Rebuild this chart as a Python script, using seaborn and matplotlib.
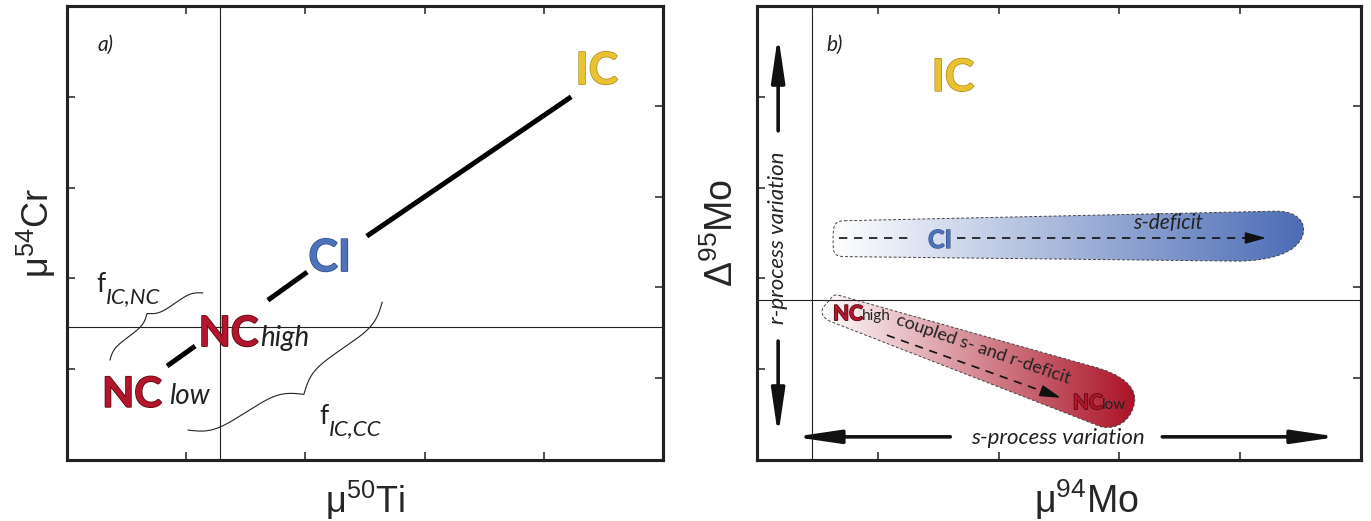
import numpy as np
import pandas as pd
import seaborn as sns
import matplotlib
matplotlib.use("Agg")
from matplotlib import pyplot as plt
from matplotlib.path import Path
from matplotlib.patches import PathPatch
from matplotlib.colors import LinearSegmentedColormap
import matplotlib.patheffects as pe

sns.set_theme(style="ticks")
plt.rcParams["font.family"] = ["Lato", "DejaVu Sans"]

# ---- schematic values (axes run 0..10 on both panels) ----
ticks_bottom = [2, 4, 6, 8]
ticks_left = [2, 4, 6, 8]
ticks_right = [1.8, 3.8, 5.8, 7.8]

# panel a: mixing line pieces (segment id, x, y)
seg_id = [0, 0, 1, 1, 2, 2]
seg_x = [1.68, 2.15, 3.37, 4.03, 5.03, 8.46]
seg_y = [2.07, 2.51, 3.52, 4.14, 4.93, 8.00]
a_vline, a_hline = 2.57, 2.93

# panel a: braces (start, end, bulge px)
brace_nc = [(0.72, 2.20), (2.28, 3.68), 16]
brace_cc = [(2.03, 0.66), (5.29, 3.48), -34]

# panel b
b_vline, b_hline = 0.91, 3.52
blue_arrow_x = [1.36, 2.60, 3.31, 8.43]
blue_arrow_y = 4.89
red_arrow_start = (2.15, 2.75)
red_arrow_end = (5.03, 1.37)
r_arrow = [(0.35, 7.25), (0.35, 9.36), (0.35, 2.62), (0.35, 0.53)]
s_arrow = [(3.20, 0.51), (0.61, 0.51), (6.71, 0.51), (9.62, 0.51)]

blue_band = [(1.45, 5.27), (8.55, 5.48), (9.05, 5.50), (9.10, 5.10), (9.02, 4.90),
             (8.90, 4.55), (8.50, 4.40), (8.00, 4.38), (1.45, 4.48),
             (1.25, 4.48), (1.26, 4.60), (1.26, 4.87), (1.26, 5.15), (1.27, 5.27), (1.45, 5.27)]
red_band = [(1.35, 3.63), (5.50, 2.08), (6.05, 1.90), (6.32, 1.60), (6.24, 1.20),
            (6.17, 0.85), (5.95, 0.66), (5.70, 0.73), (1.22, 3.05),
            (1.05, 3.15), (1.05, 3.30), (1.12, 3.40), (1.25, 3.60),
            (1.28, 3.64), (1.31, 3.64), (1.35, 3.63)]
band_codes = [Path.MOVETO, Path.LINETO, Path.CURVE4, Path.CURVE4, Path.CURVE4,
              Path.CURVE4, Path.CURVE4, Path.CURVE4, Path.LINETO,
              Path.CURVE4, Path.CURVE4, Path.CURVE4, Path.CURVE4, Path.CURVE4, Path.CURVE4]
red_codes = [Path.MOVETO, Path.LINETO, Path.CURVE4, Path.CURVE4, Path.CURVE4,
             Path.CURVE4, Path.CURVE4, Path.CURVE4, Path.LINETO,
             Path.CURVE4, Path.CURVE4, Path.CURVE4, Path.LINETO,
             Path.CURVE4, Path.CURVE4, Path.CURVE4]

GOLD, BLUE, RED, RED_EDGE = "#e8c232", "#4f73b9", "#b3152c", "#5e0a14"
BLUE_END, RED_END = "#4a6bb5", "#aa1024"

fig = plt.figure(figsize=(13.71, 5.21), dpi=100)
ax_a = fig.add_axes([67 / 1371, 61 / 521, 596 / 1371, 454 / 521])
ax_b = fig.add_axes([757 / 1371, 61 / 521, 604 / 1371, 454 / 521])


def style_axes(ax):
    ax.set_xlim(0, 10)
    ax.set_ylim(0, 10)
    ax.set_xticks(ticks_bottom)
    ax.set_yticks(ticks_left)
    ax.tick_params(direction="in", length=6, width=1.1, top=True, right=False,
                   labelbottom=False, labelleft=False, color="#222222")
    tw = ax.twinx()
    tw.set_ylim(0, 10)
    tw.set_yticks(ticks_right)
    tw.tick_params(direction="in", length=6, width=1.1, labelright=False, color="#222222")
    for a in (ax, tw):
        for sp in a.spines.values():
            sp.set_linewidth(2.2)
            sp.set_color("#222222")
        a.grid(False)
    ax.set_facecolor("white")


def axis_labels(ax, xlabel, ylabel, xlab_x, ylab_x, size):
    ax.set_xlabel(xlabel, fontsize=size, family="Liberation Sans", va="center", visible=True)
    ax.set_ylabel(ylabel, fontsize=size, family="Liberation Sans", va="center", visible=True)
    ax.xaxis.set_label_coords(xlab_x, -0.088)
    ax.yaxis.set_label_coords(ylab_x, 0.5)
    ax.set_xlim(0, 10)
    ax.set_ylim(0, 10)


def brace(ax, p0, p1, bulge, beta):
    d0 = ax.transData.transform(p0)
    d1 = ax.transData.transform(p1)
    vec = d1 - d0
    L = np.hypot(*vec)
    u = vec / L
    n = np.array([-u[1], u[0]])
    s = np.linspace(0, L / 2, 150)
    half = 1 / (1 + np.exp(-beta * (s - s[0]))) + 1 / (1 + np.exp(-beta * (s - s[-1])))
    prof = np.concatenate([half, half[-2::-1]]) - 0.5
    along = np.concatenate([s, L - s[-2::-1]])
    pts = d0 + np.outer(along, u) + np.outer(prof * bulge, n)
    xy = ax.transData.inverted().transform(pts)
    ax.plot(xy[:, 0], xy[:, 1], color="#222222", lw=0.8, zorder=3)


def label(ax, x, y, main, sub, color, size, subsize, subdx, subdy=0, sub_italic=True,
          edge=None, weight="bold", sub_color="#222222"):
    kw = dict(fontsize=size, fontweight=weight, color=color, va="baseline", ha="left", zorder=6)
    if edge is not None:
        kw["path_effects"] = [pe.withStroke(linewidth=1.2, foreground=edge)]
    ax.text(x, y, main, **kw)
    ax.annotate(sub, (x, y), xytext=(subdx, subdy), textcoords="offset points",
                fontsize=subsize, style="italic" if sub_italic else "normal",
                color=sub_color, va="baseline", ha="left", zorder=6)


# ---------------- panel a ----------------
style_axes(ax_a)
ax_a.axvline(a_vline, color="#222222", lw=0.8, zorder=2)
ax_a.axhline(a_hline, color="#222222", lw=0.8, zorder=2)

segs = pd.DataFrame({"seg": seg_id, "x": seg_x, "y": seg_y})
sns.lineplot(data=segs, x="x", y="y", units="seg", estimator=None, sort=False,
             color="black", lw=3.6, solid_capstyle="butt", ax=ax_a, zorder=4)
axis_labels(ax_a, r"$\mathregular{μ^{50}Ti}$", r"$\mathregular{μ^{54}Cr}$", 0.5, -0.052, 26)

ax_a.text(8.89, 8.28, "IC", color=GOLD, fontsize=32, fontweight="bold", ha="center",
          va="baseline", path_effects=[pe.withStroke(linewidth=1, foreground="#a88a10")])
ax_a.text(4.41, 4.16, "CI", color=BLUE, fontsize=32, fontweight="bold", ha="center",
          va="baseline", path_effects=[pe.withStroke(linewidth=1, foreground="#2d4a86")])
label(ax_a, 2.21, 2.51, "NC", "high", RED, 30, 20, 44, edge=RED_EDGE)
label(ax_a, 0.59, 1.17, "NC", "low", RED, 30, 20, 48, subdy=2, edge=RED_EDGE)
label(ax_a, 0.49, 3.70, "f", "IC,NC", "#222222", 19, 16, 7, subdy=-8, weight="normal")
label(ax_a, 4.23, 0.79, "f", "IC,CC", "#222222", 19, 16, 7, subdy=-8, weight="normal")
ax_a.text(0.64, 9.14, "a)", fontsize=15, style="italic", ha="center", va="center", color="#222222")

brace(ax_a, brace_nc[0], brace_nc[1], brace_nc[2], 0.2)
brace(ax_a, brace_cc[0], brace_cc[1], brace_cc[2], 0.1)

# ---------------- panel b ----------------
style_axes(ax_b)
ax_b.axvline(b_vline, color="#222222", lw=0.8, zorder=5)
ax_b.axhline(b_hline, color="#222222", lw=0.8, zorder=5)


def band(ax, verts, codes, end_color):
    path = Path(verts, codes)
    patch = PathPatch(path, facecolor="none", edgecolor="#444444", lw=0.7,
                      linestyle=(0, (3, 2)), zorder=3)
    ax.add_patch(patch)
    xs = [v[0] for v in verts]
    ys = [v[1] for v in verts]
    cmap = LinearSegmentedColormap.from_list("g", ["white", end_color])
    grad = np.tile(np.linspace(0, 1, 256), (2, 1))
    im = ax.imshow(grad, extent=[min(xs), max(xs), min(ys), max(ys)], cmap=cmap,
                   aspect="auto", origin="lower", zorder=2)
    im.set_clip_path(patch)


band(ax_b, blue_band, band_codes, BLUE_END)
band(ax_b, red_band, red_codes, RED_END)
axis_labels(ax_b, r"$\mathregular{μ^{94}Mo}$", r"$\mathregular{Δ^{95}Mo}$", 0.546, -0.058, 27)

dash = dict(color="#111111", lw=1.2, ls=(0, (5, 4)), zorder=4)
head = dict(arrowstyle="-|>,head_length=0.9,head_width=0.25", color="#111111",
            lw=1.2, mutation_scale=14, shrinkA=0, shrinkB=0)
ax_b.plot(blue_arrow_x[:2], [blue_arrow_y] * 2, **dash)
ax_b.plot([blue_arrow_x[2], blue_arrow_x[3] - 0.2], [blue_arrow_y] * 2, **dash)
ax_b.annotate("", xy=(blue_arrow_x[3], blue_arrow_y), xytext=(blue_arrow_x[3] - 0.3, blue_arrow_y),
              arrowprops=head, zorder=4)
rdx = red_arrow_end[0] - red_arrow_start[0]
rdy = red_arrow_end[1] - red_arrow_start[1]
ax_b.plot([red_arrow_start[0], red_arrow_end[0] - 0.07 * rdx],
          [red_arrow_start[1], red_arrow_end[1] - 0.07 * rdy], **dash)
ax_b.annotate("", xy=red_arrow_end, xytext=(red_arrow_end[0] - 0.1 * rdx, red_arrow_end[1] - 0.1 * rdy),
              arrowprops=head, zorder=4)

big = dict(arrowstyle="-|>,head_length=1.5,head_width=0.22", color="#111111", lw=2.6,
           mutation_scale=18, shrinkA=0, shrinkB=0)
for i in (0, 2):
    ax_b.annotate("", xy=r_arrow[i + 1], xytext=r_arrow[i], arrowprops=big)
    ax_b.annotate("", xy=s_arrow[i + 1], xytext=s_arrow[i], arrowprops=big)
ax_b.text(0.35, 4.89, "r-process variation", rotation=90, fontsize=16, style="italic",
          ha="center", va="center", color="#222222")
ax_b.text(4.98, 0.48, "s-process variation", fontsize=16, style="italic",
          ha="center", va="center", color="#222222")

ax_b.text(3.245, 8.13, "IC", color=GOLD, fontsize=32, fontweight="bold", ha="center",
          va="baseline", path_effects=[pe.withStroke(linewidth=1, foreground="#a88a10")])
ax_b.text(3.03, 4.67, "CI", color=BLUE, fontsize=18, fontweight="bold", ha="center",
          va="baseline", zorder=6, path_effects=[pe.withStroke(linewidth=0.8, foreground="#2d4a86")])
ax_b.text(6.80, 5.09, "s-deficit", fontsize=15, style="italic", ha="center",
          va="baseline", color="#222222", zorder=6)
label(ax_b, 1.26, 3.08, "NC", "high", RED, 15, 11, 21, sub_italic=False, edge=RED_EDGE)
label(ax_b, 5.23, 1.12, "NC", "low", RED, 15, 11, 21, sub_italic=False, edge=RED_EDGE)
ax_b.text(3.74, 2.44, "coupled s- and r-deficit", fontsize=13, rotation=-19,
          rotation_mode="anchor", ha="center", va="center", color="#222222", zorder=6)
ax_b.text(1.28, 9.14, "b)", fontsize=15, style="italic", ha="center", va="center", color="#222222")

fig.savefig("out.png", dpi=100, facecolor="white")
